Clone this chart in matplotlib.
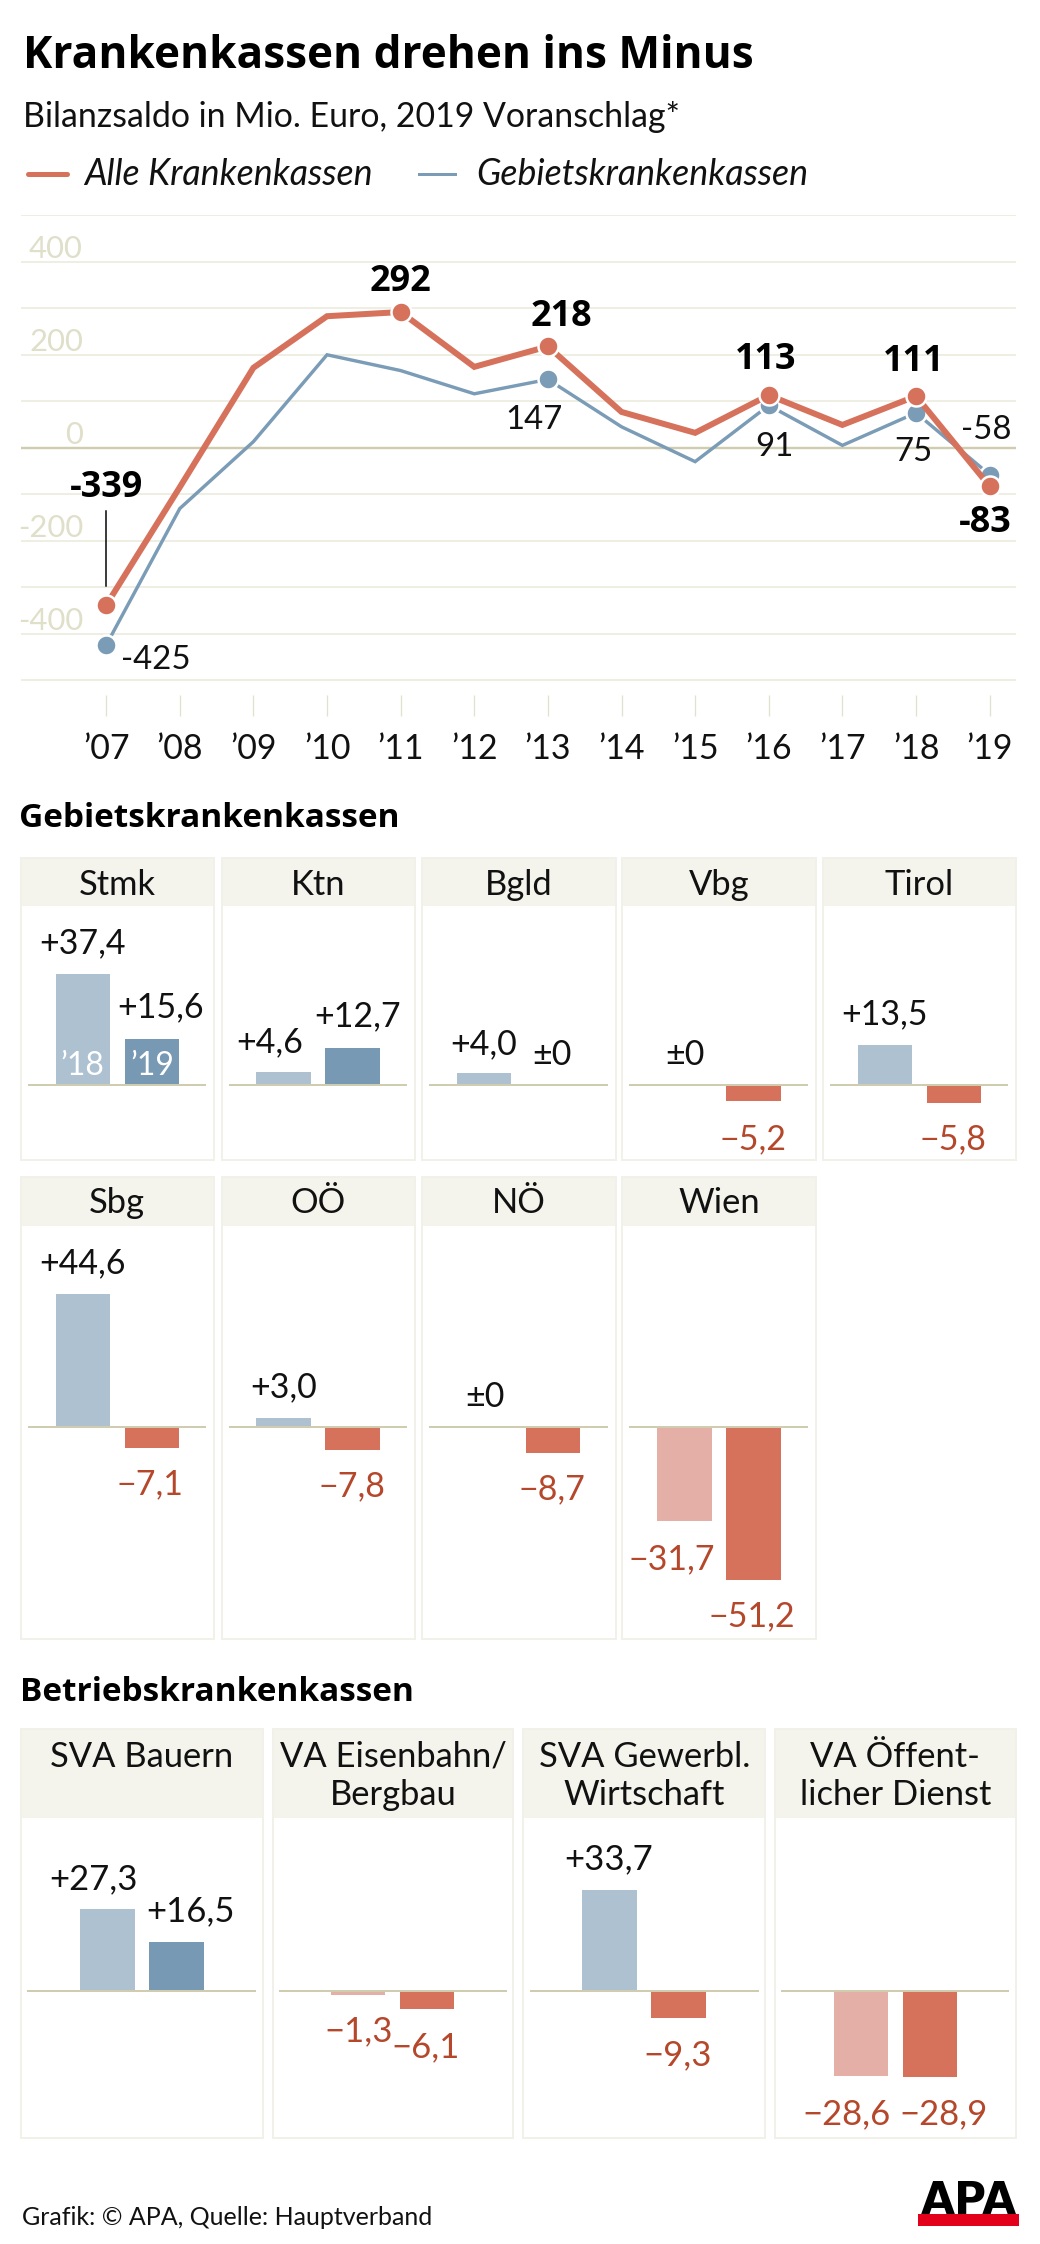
import matplotlib
matplotlib.use("Agg")
import matplotlib.pyplot as plt
from matplotlib.patches import Rectangle
from matplotlib.transforms import ScaledTranslation

plt.rcParams['font.family'] = ['Lato', 'DejaVu Sans']
BOLD = ['Open Sans', 'DejaVu Sans']

# ---------- data ----------
years = list(range(2007, 2020))
alle = [-339, -85, 172, 283, 292, 174, 218, 77, 32, 113, 49, 111, -83]
gebiet = [-425, -131, 13, 200, 166, 116, 147, 45, -30, 91, 5, 75, -58]
year_labels = ["’07", "’08", "’09", "’10", "’11", "’12", "’13", "’14", "’15", "’16", "’17", "’18", "’19"]
y_ticks = [-500, -400, -300, -200, -100, 0, 100, 200, 300, 400, 500]
y_tick_labels = ["", "-400", "", "-200", "", "0", "", "200", "", "400", ""]
alle_marked = [0, 4, 6, 9, 11, 12]
gebiet_marked = [0, 6, 9, 11, 12]

gkk_names = ["Stmk", "Ktn", "Bgld", "Vbg", "Tirol", "Sbg", "OÖ", "NÖ", "Wien"]
gkk_2018 = [37.4, 4.6, 4.0, 0, 13.5, 44.6, 3.0, 0, -31.7]
gkk_2019 = [15.6, 12.7, 0, -5.2, -5.8, -7.1, -7.8, -8.7, -51.2]

bkk_names = ["SVA Bauern", "VA Eisenbahn/\nBergbau", "SVA Gewerbl.\nWirtschaft", "VA Öffent-\nlicher Dienst"]
bkk_2018 = [27.3, -1.3, 33.7, -28.6]
bkk_2019 = [16.5, -6.1, -9.3, -28.9]

# ---------- layout (pixels) ----------
W, H = 1040, 2244
SX = 0.9949            # horizontal layout correction
TEXT_DY = 2.5          # vertical text correction
RED, BLUE = "#d6725c", "#7b9cb6"
LBLUE, DBLUE, LRED = "#adc1d1", "#7899b4", "#e4afa6"
TXTRED = "#b5472b"
GRID, ZERO, TICKCOL = "#efeee3", "#cfccb0", "#e2e0cf"
HEAD, FRAME = "#f4f4ed", "#f1f1ea"
PX_PER_UNIT = 2.98
BAR_W, BAR_STEP = 54.7, 69.4
pt = 0.72

fig = plt.figure(figsize=(W / 100, H / 100), dpi=100, facecolor="white")


def axes_px(x0, y0, x1, y1, **kw):
    return fig.add_axes([x0 * SX / W, 1 - y1 / H, (x1 - x0) * SX / W, (y1 - y0) / H], **kw)


ov = fig.add_axes([0, 0, 1, 1], zorder=10)
ov.set_xlim(0, W / SX)
ov.set_ylim(H, 0)
ov.axis("off")
ov.patch.set_alpha(0)


def t(x, y, s, size, ha="center", va="center", **kw):
    return ov.text(x, y + TEXT_DY, s, fontsize=size * pt, ha=ha, va=va, **kw)


# ---------- heading ----------
t(23, 53.7, "Krankenkassen drehen ins Minus", 44.2, ha="left", fontweight="bold", family=BOLD, color="black")
t(23, 114.4, "Bilanzsaldo in Mio. Euro, 2019 Voranschlag*", 33.9, ha="left", color="#111111")
ov.plot([28, 67], [173.6, 173.6], color=RED, lw=5 * pt, solid_capstyle="round")
ov.plot([421, 457], [173.6, 173.6], color=BLUE, lw=3 * pt)
t(85, 172, "Alle Krankenkassen", 35.7, ha="left", style="italic", color="#111111")
t(479, 172, "Gebietskrankenkassen", 35.7, ha="left", style="italic", color="#111111")

# ---------- line chart ----------
Y0, YTOP, YBOT = 447.7, 215.4, 716.3
PU = (Y0 - YTOP) / 500
STEP = 74.0
ax = axes_px(21, YTOP, 1021, YBOT)
ax.set_xlim(2007 - (106.7 - 21) / STEP, 2019 + (1021 - 994.7) / STEP)
ax.set_ylim(-(YBOT - Y0) / PU, (Y0 - YTOP) / PU)
for s in ax.spines.values():
    s.set_visible(False)
ax.set_yticks(y_ticks, y_tick_labels)
ax.tick_params(axis="y", length=0, pad=-(83 - 21) * pt, labelsize=31 * pt, labelcolor="#e0dfca")
ax.grid(axis="y", color=GRID, lw=2 * pt)
ax.set_axisbelow(True)
ax.set_xticks(years, year_labels)
ax.tick_params(axis="x", direction="in", length=21 * pt, width=1.3 * pt, color=TICKCOL, pad=17 * pt,
               labelsize=34 * pt, labelcolor="#111111")
for lab in ax.get_yticklabels():
    lab.set_transform(lab.get_transform() + ScaledTranslation(0, 15 / 100, fig.dpi_scale_trans))
ax.axhline(0, color=ZERO, lw=2.4 * pt, zorder=1.5)
ax.plot(years, gebiet, color=BLUE, lw=3.4 * pt, marker="o", ms=20 * pt, mfc=BLUE, mec="white", mew=2.5 * pt,
        markevery=gebiet_marked, zorder=3, solid_joinstyle="miter", clip_on=False)
ax.plot(years, alle, color=RED, lw=6 * pt, marker="o", ms=20 * pt, mfc=RED, mec="white", mew=2.5 * pt,
        markevery=alle_marked, zorder=4, solid_joinstyle="miter", clip_on=False)

bold_lab = [(107, 485.5, alle[0]), (402, 279.6, alle[4]), (564, 314.4, alle[6]), (770, 357.2, alle[9]),
            (918, 359.2, alle[11]), (990, 520.8, alle[12])]
for x, y, v in bold_lab:
    t(x, y, str(v), 36, fontweight="bold", family=BOLD, color="black")
reg_lab = [(157, 657.6, gebiet[0]), (537, 417.9, gebiet[6]), (778, 444.7, gebiet[9]), (918, 449.7, gebiet[11]),
           (991, 427.8, gebiet[12])]
for x, y, v in reg_lab:
    t(x, y, str(v), 33, color="#111111")
ov.plot([106.7, 106.7], [511.4, 586], color="black", lw=1.5 * pt)

# ---------- section titles ----------
t(19, 815.5, "Gebietskrankenkassen", 33.4, ha="left", fontweight="bold", family=BOLD, color="black")
t(20, 1690, "Betriebskrankenkassen", 33.4, ha="left", fontweight="bold", family=BOLD, color="black")


def fmt(v):
    if v == 0:
        return "±0"
    s = f"{abs(v):.1f}".replace(".", ",")
    return ("+" if v > 0 else "−") + s


def panel(x0, y0, head_y, y1, base, c0, name, v18, v19, pos18, pos19, name_y, inset=8.6):
    a = axes_px(x0, y0, x1_of[x0], y1)
    w = x1_of[x0] - x0
    left = -(c0 - x0) / BAR_STEP
    a.set_xlim(left, left + w / BAR_STEP)
    a.set_ylim(-(y1 - base) / PX_PER_UNIT, (base - y0) / PX_PER_UNIT)
    a.set_xticks([])
    a.set_yticks([])
    for s in a.spines.values():
        s.set_color(FRAME)
        s.set_linewidth(2 * pt)
    a.add_patch(Rectangle((0, 1 - (head_y - y0) / (y1 - y0)), 1, (head_y - y0) / (y1 - y0),
                          transform=a.transAxes, color=HEAD, lw=0, zorder=0.5))
    c18 = LBLUE if v18 >= 0 else LRED
    c19 = DBLUE if v19 >= 0 else RED
    a.bar([0, 1], [v18, v19], width=BAR_W / BAR_STEP, color=[c18, c19], zorder=2)
    a.axhline(0, xmin=inset / w, xmax=1 - inset / w, color=ZERO, lw=2 * pt, zorder=3)
    for i, line in enumerate(name.split("\n")):
        t((x0 + x1_of[x0]) / 2, name_y + i * 38, line, NAME_SIZE, color="#111111")
    for p, v in ((pos18, v18), (pos19, v19)):
        t(p[0], p[1], fmt(v), VAL_SIZE, color=TXTRED if v < 0 else "#111111")


x1_of = {20.7: 215, 222.7: 417, 424: 619, 625: 820, 827: 1021,
         21: 264, 274: 516, 526: 769, 779: 1021}

NAME_SIZE, VAL_SIZE = 34.5, 34
gkk_x = [20.7, 222.7, 424, 625, 827, 20.7, 222.7, 424, 625]
gkk_c = [83.3, 285, 486.5, 688, 889.5, 83.3, 285, 486.5, 688]
gkk_pos18 = [(83, 941), (271, 1039.5), (486, 1042), (688, 1052), (889, 1012),
             (83, 1261), (285, 1385), (487, 1394), (675, 1557)]
gkk_pos19 = [(161, 1005), (359, 1014), (555, 1052), (757, 1136.5), (958, 1137),
             (151, 1482), (354, 1484), (555, 1487), (756, 1614)]
for i in range(9):
    if i < 5:
        panel(gkk_x[i], 857.5, 906, 1160, 1085.4, gkk_c[i], gkk_names[i], gkk_2018[i], gkk_2019[i],
              gkk_pos18[i], gkk_pos19[i], 882)
    else:
        panel(gkk_x[i], 1176.7, 1226, 1639, 1427, gkk_c[i], gkk_names[i], gkk_2018[i], gkk_2019[i],
              gkk_pos18[i], gkk_pos19[i], 1200)
t(83, 1063, "’18", 32, color="white")
t(153, 1063, "’19", 32, color="white")

NAME_SIZE = 34.5
VAL_SIZE = 34.7
bkk_x = [21, 274, 526, 779]
bkk_c = [107.9, 360, 612.5, 865.5]
bkk_pos18 = [(94, 1877), (360, 2029), (612, 1857), (851, 2112)]
bkk_pos19 = [(191, 1909), (428, 2045), (681, 2053), (948, 2112)]
for i in range(4):
    panel(bkk_x[i], 1729, 1818, 2137.5, 1990.7, bkk_c[i], bkk_names[i], bkk_2018[i], bkk_2019[i],
          bkk_pos18[i], bkk_pos19[i], 1754, inset=7.5)

# ---------- footer ----------
t(22, 2215, "Grafik: © APA, Quelle: Hauptverband", 25, ha="left", color="#111111")
ov.text(973.5, 2214.5, "APA", fontsize=44 * pt, ha="center", va="baseline", fontweight="bold",
        family="DejaVu Sans", color="black")
ov.add_patch(Rectangle((922.7, 2214), 101.5, 12, color="#e2001a", lw=0, zorder=5))

fig.savefig("out.png", dpi=100, facecolor="white")
